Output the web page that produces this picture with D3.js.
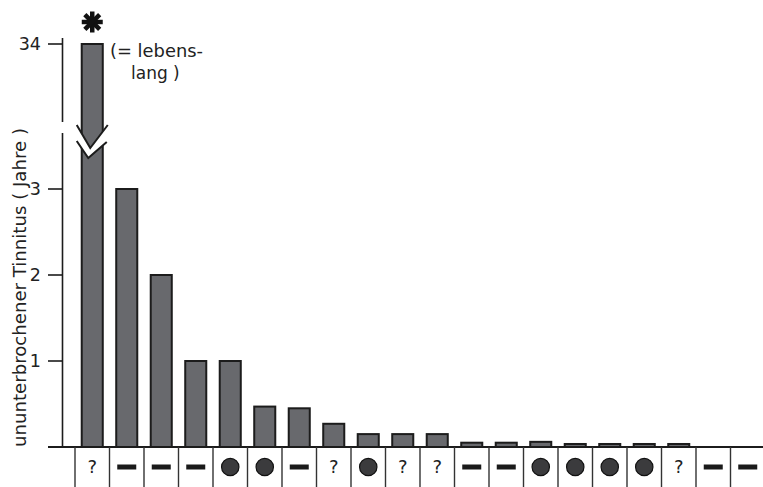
<!DOCTYPE html>
<html><head><meta charset="utf-8">
<script src="https://cdn.jsdelivr.net/npm/d3@7"></script>
<style>html,body{margin:0;padding:0;background:#fff}svg{display:block}text{font-family:"DejaVu Sans",sans-serif;fill:#222}</style>
</head><body>
<script>
// ---- data ----
const categories = ["?","-","-","-","o","o","-","?","o","?","?","-","-","o","o","o","o","?","-","-"];
const values = [34, 3, 2, 1, 1, 0.47, 0.45, 0.27, 0.15, 0.15, 0.15, 0.05, 0.05, 0.06, 0.035, 0.035, 0.035, 0.035, 0, 0];
const lowerTicks = [0, 1, 2, 3];
const upperTicks = [34];
const yTitle = "ununterbrochener Tinnitus ( Jahre )";
const noteLines = ["(= lebens-", "lang )"];

const W = 763, H = 487;
const svg = d3.select("body").append("svg").attr("width", W).attr("height", H);

const x = d3.scaleBand().domain(d3.range(categories.length)).range([75, 765])
  .paddingInner(0.39).paddingOuter(0.195);
const yLow = d3.scaleLinear().domain([0, 3]).range([447, 189]);
const yUp = d3.scaleLinear().domain([33, 34]).range([66, 44]);
const breakTop = 122, breakBot = 133;
const axisX = 62.5;
const dark = "#1c1c1c";

// y axis segments
svg.append("line").attr("x1", axisX).attr("x2", axisX).attr("y1", 38).attr("y2", breakTop)
  .attr("stroke", dark).attr("stroke-width", 1.6);
svg.append("line").attr("x1", axisX).attr("x2", axisX).attr("y1", breakBot).attr("y2", yLow(0))
  .attr("stroke", dark).attr("stroke-width", 1.6);

// ticks
const tickData = lowerTicks.map(v => ({v, y: yLow(v)})).concat(upperTicks.map(v => ({v, y: yUp(v)})));
svg.selectAll(".tick").data(tickData).join("line")
  .attr("x1", 48).attr("x2", axisX).attr("y1", d => d.y).attr("y2", d => d.y)
  .attr("stroke", dark).attr("stroke-width", 1.6);
svg.selectAll(".tl").data(tickData.filter(d => d.v !== 0)).join("text")
  .attr("x", 41).attr("y", d => d.y).attr("dy", "0.36em").attr("text-anchor", "end")
  .attr("font-size", 17.5).attr("fill", "#333").text(d => d.v);

// bars
const yVal = v => v > 3.7 ? yUp(v) : yLow(v);
svg.selectAll(".bar").data(values.map((v, i) => ({v, i})).filter(d => d.v > 0)).join("rect")
  .attr("x", d => x(d.i)).attr("width", x.bandwidth())
  .attr("y", d => yVal(d.v)).attr("height", d => yLow(0) - yVal(d.v))
  .attr("fill", "#68696d").attr("stroke", dark).attr("stroke-width", 2);

// break chevron on the first bar
const bx = x(0), bw = x.bandwidth(), bc = bx + bw / 2;
const upV = [[bx - 5, 125], [bc - 2, 148], [bx + bw + 5, 125]];
const loV = [[bx - 5, 141], [bc - 4, 158], [bx + bw + 4, 142]];
svg.append("path").attr("d", d3.line()(upV.concat(loV.slice().reverse())) + "Z")
  .attr("fill", "#fff");
svg.append("path").attr("d", d3.line()(upV)).attr("fill", "none").attr("stroke", dark).attr("stroke-width", 2);
svg.append("path").attr("d", d3.line()(loV)).attr("fill", "none").attr("stroke", dark).attr("stroke-width", 2);

// asterisk
const ast = svg.append("g").attr("transform", `translate(${bc},22)`);
[0, 45, 90, 135].forEach(a => {
  ast.append("line").attr("x1", -10.5).attr("x2", 10.5).attr("y1", 0).attr("y2", 0)
    .attr("transform", `rotate(${a})`).attr("stroke", "#111").attr("stroke-width", 4.5);
});

// note
svg.append("text").attr("x", 110).attr("y", 57).attr("font-size", 17).attr("fill", "#333")
  .attr("textLength", 93).attr("lengthAdjust", "spacingAndGlyphs").text(noteLines[0]);
svg.append("text").attr("x", 131).attr("y", 79).attr("font-size", 17).attr("fill", "#333").text(noteLines[1]);

// baseline
svg.append("line").attr("x1", 48).attr("x2", W).attr("y1", yLow(0)).attr("y2", yLow(0))
  .attr("stroke", dark).attr("stroke-width", 2.2);

// category dividers
const step = x.step();
const edges = d3.range(categories.length + 1).map(i => 75 + i * step);
svg.selectAll(".div").data(edges).join("line")
  .attr("x1", d => d).attr("x2", d => d).attr("y1", yLow(0)).attr("y2", H)
  .attr("stroke", "#333").attr("stroke-width", 1.4);

// category symbols
const cy = 467;
categories.forEach((c, i) => {
  const cx = x(i) + bw / 2;
  if (c === "?") {
    svg.append("text").attr("x", cx).attr("y", cy).attr("dy", "0.36em").attr("text-anchor", "middle")
      .attr("font-size", 18).attr("fill", "#222").text("?");
  } else if (c === "-") {
    svg.append("rect").attr("x", cx - 9.5).attr("y", cy - 2.5).attr("width", 19).attr("height", 5).attr("fill", "#1a1a1a");
  } else {
    svg.append("circle").attr("cx", cx).attr("cy", cy).attr("r", 8.7).attr("fill", "#3b3b3d").attr("stroke", "#111").attr("stroke-width", 1.2);
  }
});

// y title
svg.append("text").attr("transform", `translate(26,${(128 + 447) / 2}) rotate(-90)`)
  .attr("text-anchor", "middle").attr("font-size", 17).attr("fill", "#333")
  .attr("textLength", 319).attr("lengthAdjust", "spacingAndGlyphs").text(yTitle);
</script>
</body></html>
